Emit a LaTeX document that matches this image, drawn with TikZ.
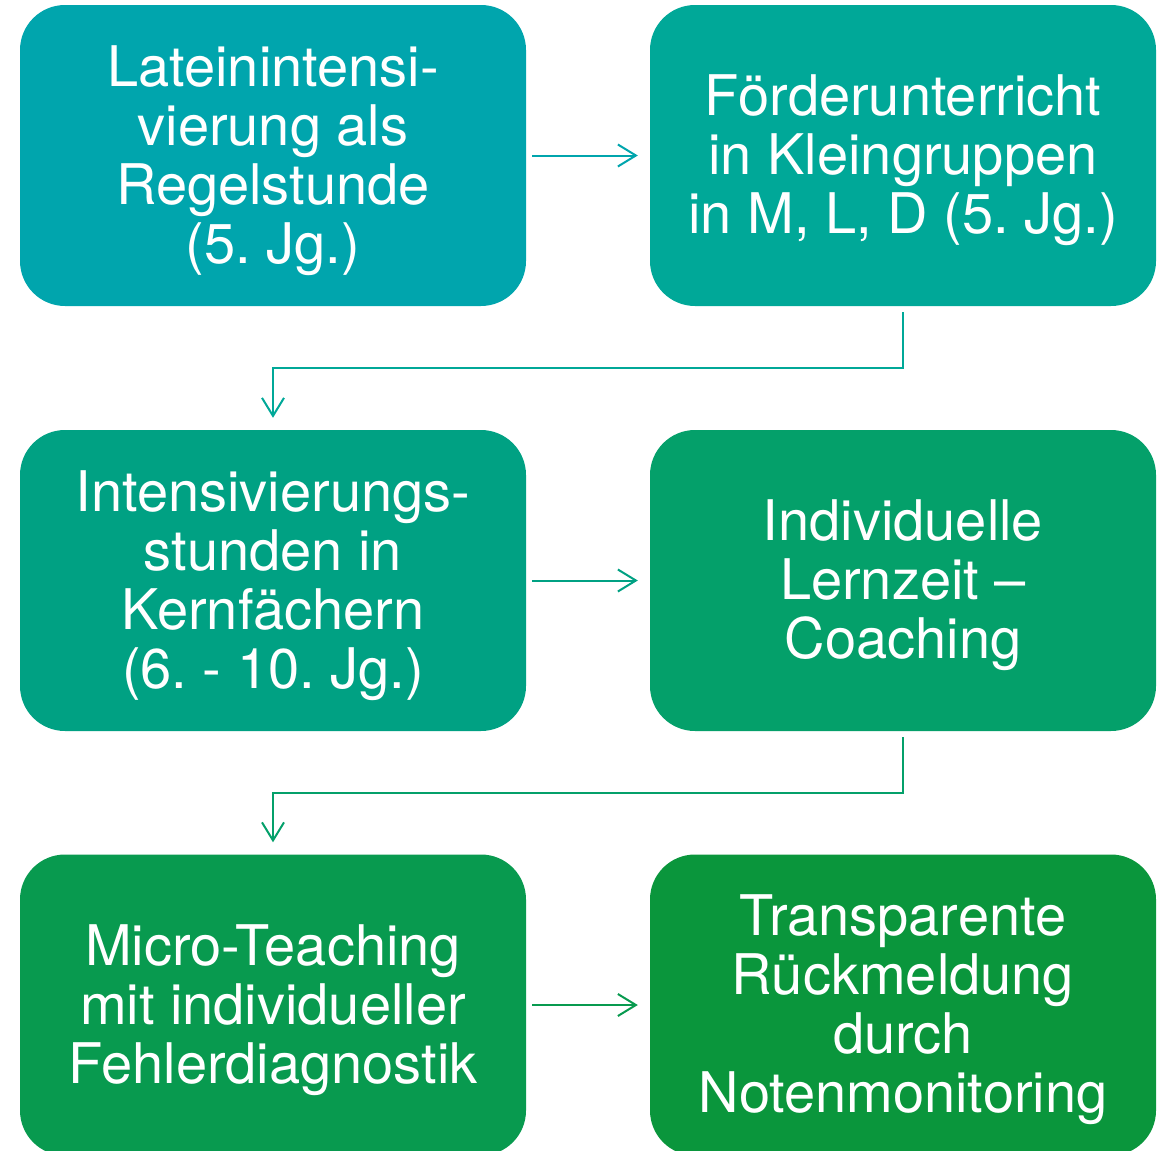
\documentclass[tikz,border=0pt]{standalone}
\usepackage{fontspec}
\setmainfont{TeX Gyre Heros}
\frenchspacing
\usetikzlibrary{arrows.meta}
\definecolor{cA}{HTML}{00A5AD}
\definecolor{cB}{HTML}{00A898}
\definecolor{cC}{HTML}{00A183}
\definecolor{cD}{HTML}{04A06A}
\definecolor{cE}{HTML}{089A4F}
\definecolor{cF}{HTML}{0A963C}
\tikzset{
  box/.style={rounded corners=45pt, minimum width=506pt, minimum height=301pt,
    inner sep=0pt},
  txt/.style={text=white, align=center, inner sep=0pt,
    font=\fontsize{56pt}{59pt}\selectfont},
  conn/.style={line width=2pt, -{Straight Barb[length=18pt,width=22pt,line width=2pt]}}
}
\begin{document}
\begin{tikzpicture}[x=1pt,y=1pt]
\useasboundingbox (0,0) rectangle (1162,-1151);
\begin{scope}
\clip (0,0) rectangle (1162,-1151);
\node[box, fill=cA] (b1) at (273,-155.5) {};
\node[box, fill=cB] (b2) at (903,-155.5) {};
\node[box, fill=cC] (b3) at (273,-580.5) {};
\node[box, fill=cD] (b4) at (903,-580.5) {};
\node[box, fill=cE] (b5) at (273,-1005) {};
\node[box, fill=cF] (b6) at (903,-1005) {};
\end{scope}
\node[txt] (t1) at ([yshift=-5pt]b1.center) {Lateinintensi-\\vierung als\\Regelstunde\\(5. Jg.)};
\node[txt] (t2) at ([yshift=-5pt]b2.center) {Förderunterricht\\in Kleingruppen\\in M, L, D (5. Jg.)};
\node[txt] (t3) at ([yshift=-5pt]b3.center) {Intensivierungs-\\stunden in\\Kernfächern\\(6. - 10. Jg.)};
\node[txt] (t4) at ([yshift=-5pt]b4.center) {Individuelle\\Lernzeit –\\Coaching};
\node[txt] (t5) at ([yshift=-5pt]b5.center) {Micro-Teaching\\mit individueller\\Fehlerdiagnostik};
\node[txt] (t6) at ([yshift=-5pt]b6.center) {Transparente\\Rückmeldung\\durch\\Notenmonitoring};
\draw[conn, draw=cA, shorten <=6pt, shorten >=12pt] (b1.east) -- (b2.west);
\draw[conn, draw=cB, shorten <=6pt, shorten >=12pt] (b2.south) -- ++(0,-62) -| (b3.north);
\draw[conn, draw=cC, shorten <=6pt, shorten >=12pt] (b3.east) -- (b4.west);
\draw[conn, draw=cD, shorten <=6pt, shorten >=12pt] (b4.south) -- ++(0,-62) -| (b5.north);
\draw[conn, draw=cE, shorten <=6pt, shorten >=12pt] (b5.east) -- (b6.west);
\end{tikzpicture}
\end{document}
